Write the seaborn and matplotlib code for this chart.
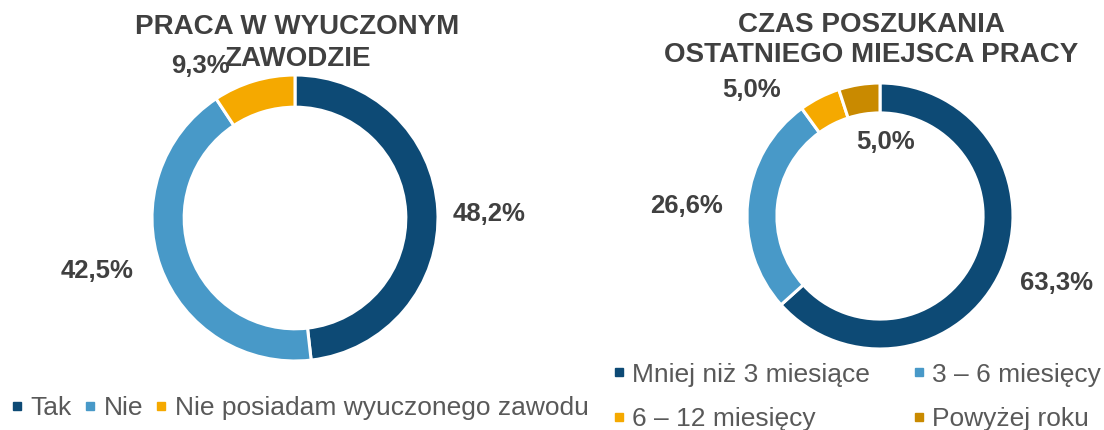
import numpy as np
import matplotlib
matplotlib.use("Agg")
import matplotlib.pyplot as plt
from matplotlib.lines import Line2D
import seaborn as sns

# --- data ---
job_labels = ["Tak", "Nie", "Nie posiadam wyuczonego zawodu"]
job_values = [48.2, 42.5, 9.3]
search_labels = ["Mniej niż 3 miesiące", "3 – 6 miesięcy", "6 – 12 miesięcy", "Powyżej roku"]
search_values = [63.3, 26.6, 5.0, 5.0]

palette = sns.color_palette(["#0d4a75", "#4899c8", "#f5a900", "#c98a00"])
text_grey = "#404040"
legend_grey = "#595959"

sns.set_theme(style="white")
plt.rcParams["font.family"] = ["Liberation Sans", "DejaVu Sans"]

W, H = 1104, 430
fig = plt.figure(figsize=(W / 100, H / 100), dpi=100)


def donut(cx, cy, r, x0, x1, values, colors, nudges, dists):
    # axes spanning x0..x1 px, full height; pie centred at (cx, cy) px with radius r px
    ax = fig.add_axes([x0 / W, 0, (x1 - x0) / W, 1])
    wedges, _ = ax.pie(values, colors=colors, startangle=90, counterclock=False,
                       radius=1, wedgeprops=dict(width=0.225, edgecolor="white", linewidth=2.2))
    ax.set_aspect("auto")
    ax.set_xlim(-(cx - x0) / r, (x1 - cx) / r)
    ax.set_ylim(-(H - cy) / r, cy / r)
    ax.axis("off")
    for w, v, nd, d in zip(wedges, values, nudges, dists):
        ang = np.deg2rad((w.theta1 + w.theta2) / 2 + nd)
        ax.text(d * np.cos(ang), d * np.sin(ang), f"{v:.1f}%".replace(".", ","),
                ha="center", va="center", fontsize=18.5, fontweight="bold", color=text_grey)
    return ax


donut(295, 218, 143, 0, 590, job_values, palette[:3], [-2, -5, 15.3], [1.36, 1.43, 1.25])
donut(880, 216, 133, 590, W, search_values, palette, [3.2, 3.1, 18.6, -13.4], [1.42, 1.46, 1.35, 0.56])

fig.text(297 / W, 1 - 43 / H, "PRACA W WYUCZONYM\nZAWODZIE", ha="center", va="center",
         fontsize=20, fontweight="bold", color=text_grey, linespacing=1.33)
fig.text(871 / W, 1 - 40 / H, "CZAS POSZUKANIA\nOSTATNIEGO MIEJSCA PRACY", ha="center", va="center",
         fontsize=20, fontweight="bold", color=text_grey, linespacing=1.22)


def handles(colors):
    return [Line2D([], [], marker="s", linestyle="", markersize=5.5, color=c) for c in colors]


leg_kw = dict(frameon=False, fontsize=19, borderpad=0, borderaxespad=0,
              handlelength=0.4, handletextpad=0.3, labelcolor=legend_grey)
fig.legend(handles(palette[:3]), job_labels, ncol=3, loc="center left",
           bbox_to_anchor=(12 / W, 1 - 408 / H), columnspacing=0.5, **leg_kw)

# legend fills column by column; reorder so rows read like the reference
order = [0, 2, 1, 3]
fig.legend([handles(palette)[i] for i in order], [search_labels[i] for i in order], ncol=2,
           loc="center left", bbox_to_anchor=(614 / W, 1 - 397 / H),
           columnspacing=1.65, labelspacing=0.78, **leg_kw)

fig.savefig("out.png", dpi=100)
